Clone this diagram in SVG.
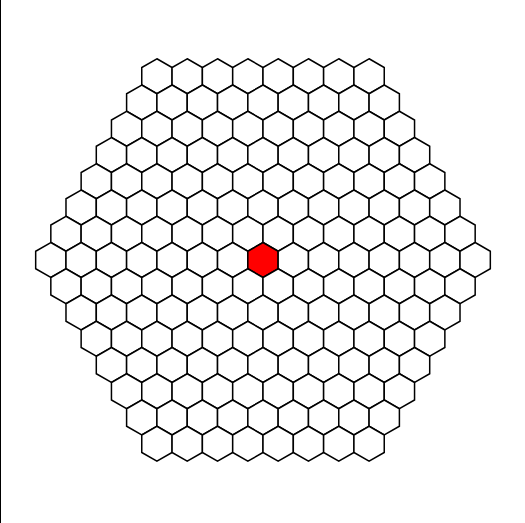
<svg xmlns="http://www.w3.org/2000/svg" xmlns:xlink="http://www.w3.org/1999/xlink" width="525" height="523" viewBox="0 0 525 523">
<style>
.h{fill:#fff;stroke:#000;stroke-width:1.5}
.c{fill:#f00;stroke:#000;stroke-width:1.5}
</style>
<defs>
<path id="hx" d="M0,-17.5L15.155,-8.75L15.155,8.75L0,17.5L-15.155,8.75L-15.155,-8.75Z"/>
</defs>
<rect width="525" height="523" fill="#fff"/>
<line x1="0.5" y1="0" x2="0.5" y2="523" stroke="#000" stroke-width="1"/>
<g id="grid">
<g id="row-7" transform="translate(0,76.25)">
<use class="h" href="#hx" x="156.915"/><use class="h" href="#hx" x="187.225"/><use class="h" href="#hx" x="217.535"/><use class="h" href="#hx" x="247.845"/><use class="h" href="#hx" x="278.155"/><use class="h" href="#hx" x="308.465"/><use class="h" href="#hx" x="338.775"/><use class="h" href="#hx" x="369.085"/>
</g>
<g id="row-6" transform="translate(0,102.5)">
<use class="h" href="#hx" x="141.76"/><use class="h" href="#hx" x="172.07"/><use class="h" href="#hx" x="202.38"/><use class="h" href="#hx" x="232.69"/><use class="h" href="#hx" x="263"/><use class="h" href="#hx" x="293.31"/><use class="h" href="#hx" x="323.62"/><use class="h" href="#hx" x="353.93"/><use class="h" href="#hx" x="384.24"/>
</g>
<g id="row-5" transform="translate(0,128.75)">
<use class="h" href="#hx" x="126.605"/><use class="h" href="#hx" x="156.915"/><use class="h" href="#hx" x="187.225"/><use class="h" href="#hx" x="217.535"/><use class="h" href="#hx" x="247.845"/><use class="h" href="#hx" x="278.155"/><use class="h" href="#hx" x="308.465"/><use class="h" href="#hx" x="338.775"/><use class="h" href="#hx" x="369.085"/><use class="h" href="#hx" x="399.395"/>
</g>
<g id="row-4" transform="translate(0,155)">
<use class="h" href="#hx" x="111.45"/><use class="h" href="#hx" x="141.76"/><use class="h" href="#hx" x="172.07"/><use class="h" href="#hx" x="202.38"/><use class="h" href="#hx" x="232.69"/><use class="h" href="#hx" x="263"/><use class="h" href="#hx" x="293.31"/><use class="h" href="#hx" x="323.62"/><use class="h" href="#hx" x="353.93"/><use class="h" href="#hx" x="384.24"/><use class="h" href="#hx" x="414.55"/>
</g>
<g id="row-3" transform="translate(0,181.25)">
<use class="h" href="#hx" x="96.295"/><use class="h" href="#hx" x="126.605"/><use class="h" href="#hx" x="156.915"/><use class="h" href="#hx" x="187.225"/><use class="h" href="#hx" x="217.535"/><use class="h" href="#hx" x="247.845"/><use class="h" href="#hx" x="278.155"/><use class="h" href="#hx" x="308.465"/><use class="h" href="#hx" x="338.775"/><use class="h" href="#hx" x="369.085"/><use class="h" href="#hx" x="399.395"/><use class="h" href="#hx" x="429.705"/>
</g>
<g id="row-2" transform="translate(0,207.5)">
<use class="h" href="#hx" x="81.14"/><use class="h" href="#hx" x="111.45"/><use class="h" href="#hx" x="141.76"/><use class="h" href="#hx" x="172.07"/><use class="h" href="#hx" x="202.38"/><use class="h" href="#hx" x="232.69"/><use class="h" href="#hx" x="263"/><use class="h" href="#hx" x="293.31"/><use class="h" href="#hx" x="323.62"/><use class="h" href="#hx" x="353.93"/><use class="h" href="#hx" x="384.24"/><use class="h" href="#hx" x="414.55"/><use class="h" href="#hx" x="444.86"/>
</g>
<g id="row-1" transform="translate(0,233.75)">
<use class="h" href="#hx" x="65.985"/><use class="h" href="#hx" x="96.295"/><use class="h" href="#hx" x="126.605"/><use class="h" href="#hx" x="156.915"/><use class="h" href="#hx" x="187.225"/><use class="h" href="#hx" x="217.535"/><use class="h" href="#hx" x="247.845"/><use class="h" href="#hx" x="278.155"/><use class="h" href="#hx" x="308.465"/><use class="h" href="#hx" x="338.775"/><use class="h" href="#hx" x="369.085"/><use class="h" href="#hx" x="399.395"/><use class="h" href="#hx" x="429.705"/><use class="h" href="#hx" x="460.015"/>
</g>
<g id="row0" transform="translate(0,260)">
<use class="h" href="#hx" x="50.83"/><use class="h" href="#hx" x="81.14"/><use class="h" href="#hx" x="111.45"/><use class="h" href="#hx" x="141.76"/><use class="h" href="#hx" x="172.07"/><use class="h" href="#hx" x="202.38"/><use class="h" href="#hx" x="232.69"/><use id="center" class="c" href="#hx" x="263"/><use class="h" href="#hx" x="293.31"/><use class="h" href="#hx" x="323.62"/><use class="h" href="#hx" x="353.93"/><use class="h" href="#hx" x="384.24"/><use class="h" href="#hx" x="414.55"/><use class="h" href="#hx" x="444.86"/><use class="h" href="#hx" x="475.17"/>
</g>
<g id="row1" transform="translate(0,286.25)">
<use class="h" href="#hx" x="65.985"/><use class="h" href="#hx" x="96.295"/><use class="h" href="#hx" x="126.605"/><use class="h" href="#hx" x="156.915"/><use class="h" href="#hx" x="187.225"/><use class="h" href="#hx" x="217.535"/><use class="h" href="#hx" x="247.845"/><use class="h" href="#hx" x="278.155"/><use class="h" href="#hx" x="308.465"/><use class="h" href="#hx" x="338.775"/><use class="h" href="#hx" x="369.085"/><use class="h" href="#hx" x="399.395"/><use class="h" href="#hx" x="429.705"/><use class="h" href="#hx" x="460.015"/>
</g>
<g id="row2" transform="translate(0,312.5)">
<use class="h" href="#hx" x="81.14"/><use class="h" href="#hx" x="111.45"/><use class="h" href="#hx" x="141.76"/><use class="h" href="#hx" x="172.07"/><use class="h" href="#hx" x="202.38"/><use class="h" href="#hx" x="232.69"/><use class="h" href="#hx" x="263"/><use class="h" href="#hx" x="293.31"/><use class="h" href="#hx" x="323.62"/><use class="h" href="#hx" x="353.93"/><use class="h" href="#hx" x="384.24"/><use class="h" href="#hx" x="414.55"/><use class="h" href="#hx" x="444.86"/>
</g>
<g id="row3" transform="translate(0,338.75)">
<use class="h" href="#hx" x="96.295"/><use class="h" href="#hx" x="126.605"/><use class="h" href="#hx" x="156.915"/><use class="h" href="#hx" x="187.225"/><use class="h" href="#hx" x="217.535"/><use class="h" href="#hx" x="247.845"/><use class="h" href="#hx" x="278.155"/><use class="h" href="#hx" x="308.465"/><use class="h" href="#hx" x="338.775"/><use class="h" href="#hx" x="369.085"/><use class="h" href="#hx" x="399.395"/><use class="h" href="#hx" x="429.705"/>
</g>
<g id="row4" transform="translate(0,365)">
<use class="h" href="#hx" x="111.45"/><use class="h" href="#hx" x="141.76"/><use class="h" href="#hx" x="172.07"/><use class="h" href="#hx" x="202.38"/><use class="h" href="#hx" x="232.69"/><use class="h" href="#hx" x="263"/><use class="h" href="#hx" x="293.31"/><use class="h" href="#hx" x="323.62"/><use class="h" href="#hx" x="353.93"/><use class="h" href="#hx" x="384.24"/><use class="h" href="#hx" x="414.55"/>
</g>
<g id="row5" transform="translate(0,391.25)">
<use class="h" href="#hx" x="126.605"/><use class="h" href="#hx" x="156.915"/><use class="h" href="#hx" x="187.225"/><use class="h" href="#hx" x="217.535"/><use class="h" href="#hx" x="247.845"/><use class="h" href="#hx" x="278.155"/><use class="h" href="#hx" x="308.465"/><use class="h" href="#hx" x="338.775"/><use class="h" href="#hx" x="369.085"/><use class="h" href="#hx" x="399.395"/>
</g>
<g id="row6" transform="translate(0,417.5)">
<use class="h" href="#hx" x="141.76"/><use class="h" href="#hx" x="172.07"/><use class="h" href="#hx" x="202.38"/><use class="h" href="#hx" x="232.69"/><use class="h" href="#hx" x="263"/><use class="h" href="#hx" x="293.31"/><use class="h" href="#hx" x="323.62"/><use class="h" href="#hx" x="353.93"/><use class="h" href="#hx" x="384.24"/>
</g>
<g id="row7" transform="translate(0,443.75)">
<use class="h" href="#hx" x="156.915"/><use class="h" href="#hx" x="187.225"/><use class="h" href="#hx" x="217.535"/><use class="h" href="#hx" x="247.845"/><use class="h" href="#hx" x="278.155"/><use class="h" href="#hx" x="308.465"/><use class="h" href="#hx" x="338.775"/><use class="h" href="#hx" x="369.085"/>
</g>
</g>
</svg>
